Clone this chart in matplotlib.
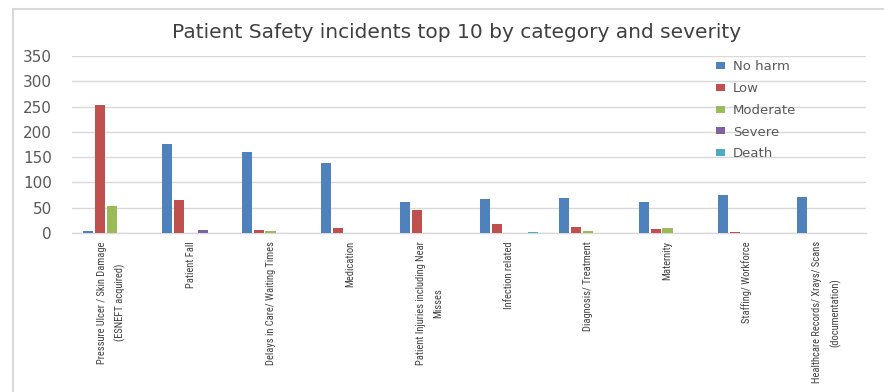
import numpy as np
import matplotlib
matplotlib.use("Agg")
import matplotlib.pyplot as plt
from matplotlib import font_manager
from matplotlib.font_manager import FontProperties
from matplotlib.lines import Line2D

categories = [
    "Pressure Ulcer / Skin Damage\n(ESNEFT acquired)",
    "Patient Fall",
    "Delays in Care/ Waiting Times",
    "Medication",
    "Patient Injuries including Near\nMisses",
    "Infection related",
    "Diagnosis/ Treatment",
    "Maternity",
    "Staffing/ Workforce",
    "Healthcare Records/ Xrays/ Scans\n(documentation)",
]
no_harm = [3, 176, 160, 139, 61, 67, 70, 61, 75, 71]
low = [254, 65, 5, 9, 45, 18, 11, 8, 2, 0]
moderate = [53, 0, 3, 0, 0, 0, 3, 9, 0, 0]
severe = [0, 5, 0, 0, 0, 0, 0, 0, 0, 0]
death = [0, 0, 0, 0, 0, 2, 0, 0, 0, 0]

series_names = ["No harm", "Low", "Moderate", "Severe", "Death"]
series_values = [no_harm, low, moderate, severe, death]
series_colors = ["#4F81BD", "#C0504D", "#9BBB59", "#8064A2", "#4BACC6"]
y_ticks = [0, 50, 100, 150, 200, 250, 300, 350]

LABEL_SIZE = 7.6


def condensed_label_font():
    """Pick a narrow sans face for the rotated category labels if one is installed."""
    entries = font_manager.fontManager.ttflist
    wanted = ["liberationsansnarrow-regular", "robotocondensed-regular",
              "dejavusanscondensed.ttf", "opensans_condensed", "opensanscondensed"]
    for key in wanted:
        for f in entries:
            base = f.fname.replace("\\", "/").split("/")[-1].lower().replace(" ", "")
            if base.startswith(key.split(".")[0]) and "bold" not in base and "italic" not in base \
                    and "oblique" not in base and "light" not in base:
                return FontProperties(fname=f.fname, size=LABEL_SIZE)
    for f in entries:
        if f.stretch in ("condensed", "semi-condensed", "extra-condensed") and f.weight in (400, "normal") \
                and f.style == "normal":
            return FontProperties(fname=f.fname, size=LABEL_SIZE)
    return FontProperties(family="Liberation Sans", size=6.4)


label_font = condensed_label_font()

W, H = 884, 392
fig = plt.figure(figsize=(W / 100, H / 100), dpi=100)
ax = fig.add_axes([72 / W, (H - 233) / H, (866 - 72) / W, (233 - 56) / H])

x = np.arange(len(categories))
step = 0.151
width = 0.126
for i, (name, vals, col) in enumerate(zip(series_names, series_values, series_colors)):
    ax.bar(x + (i - 2) * step, vals, width=width, color=col, label=name, zorder=3)

ax.set_xlim(-0.5, len(categories) - 0.5)
ax.set_ylim(0, 350)
ax.set_yticks(y_ticks)
ax.set_yticklabels([str(v) for v in y_ticks], fontsize=11, color="#595959",
                   family="DejaVu Sans")
ax.tick_params(axis="y", length=0, pad=14.4)
ax.tick_params(axis="x", length=0, pad=6)
ax.set_xticks(x)
ax.set_xticklabels(categories, rotation=90, fontproperties=label_font, color="#404040",
                   ha="center", va="top", multialignment="center", linespacing=1.9)

ax.grid(axis="y", color="#D9D9D9", linewidth=1, zorder=0)
for side in ["left", "right", "top"]:
    ax.spines[side].set_visible(False)
ax.spines["bottom"].set_color("#D9D9D9")
ax.spines["bottom"].set_linewidth(1)

leg = ax.legend(loc="upper left", bbox_to_anchor=(0.811, 0.975), frameon=False,
                borderpad=0, borderaxespad=0, handlelength=0.7, handleheight=0.45,
                handletextpad=0.6, labelspacing=0.66,
                prop={"family": "DejaVu Sans", "size": 9.5})
for t in leg.get_texts():
    t.set_color("#595959")

fig.text(457 / W, 1 - 33 / H, "Patient Safety incidents top 10 by category and severity",
         ha="center", va="center", fontsize=14.5, color="#404040", family="DejaVu Sans")

# chart-area border
fig.add_artist(Line2D([13 / W, 13 / W], [0, 1 - 9 / H], transform=fig.transFigure,
                      color="#D9D9D9", linewidth=1.5))
fig.add_artist(Line2D([13 / W, 1], [1 - 9 / H, 1 - 9 / H], transform=fig.transFigure,
                      color="#D9D9D9", linewidth=1.5))

fig.savefig("out.png", dpi=100)
